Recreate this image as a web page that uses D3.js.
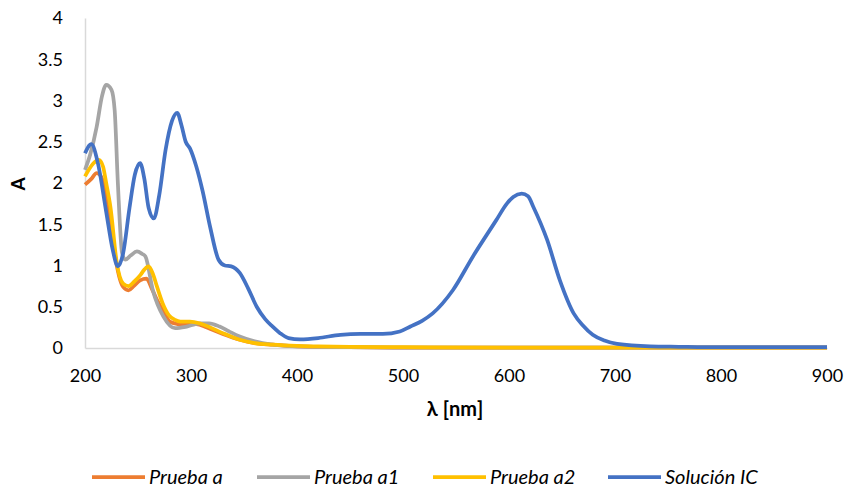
<!DOCTYPE html>
<html>
<head>
<meta charset="utf-8">
<script src="https://cdn.jsdelivr.net/npm/d3@7"></script>
<style>
  body { margin: 0; background: #fff; }
  text { font-family: Lato, "Open Sans", sans-serif; fill: #000; }
</style>
</head>
<body>
<svg id="chart" width="853" height="487"></svg>
<script>
// series data (wavelength nm, absorbance)
const wlA = [200, 206, 211, 214, 220, 224, 228, 236, 241, 246, 252, 258, 263, 268, 274, 280, 288, 296, 305, 315, 330, 346, 360, 377, 400, 450, 500, 600, 700, 800, 900];
const absA = [1.98, 2.05, 2.12, 2.1, 1.87, 1.55, 1.15, 0.74, 0.70, 0.75, 0.82, 0.84, 0.72, 0.58, 0.44, 0.32, 0.29, 0.28, 0.29, 0.25, 0.17, 0.1, 0.06, 0.04, 0.02, 0.01, 0.005, 0.005, 0.005, 0.005, 0.005];

const wlA1 = [200, 205, 211, 216, 220, 225, 228, 231, 235, 238, 243, 249, 254, 257, 264, 274, 285, 296, 308, 317, 327, 336, 346, 360, 377, 400, 450, 500, 600, 700, 800, 900];
const absA1 = [2.16, 2.35, 2.68, 3.05, 3.19, 3.13, 2.88, 2.0, 1.15, 1.07, 1.12, 1.17, 1.14, 1.11, 0.7, 0.38, 0.24, 0.26, 0.3, 0.3, 0.26, 0.2, 0.14, 0.08, 0.04, 0.02, 0.01, 0.005, 0.005, 0.005, 0.005, 0.005];

const wlA2 = [200, 204, 208, 213, 217, 220, 224, 230, 236, 241, 246, 252, 256, 260, 264, 268, 273, 279, 285, 290, 299, 308, 318, 330, 346, 360, 377, 400, 420, 450, 500, 600, 700, 800, 900];
const absA2 = [2.08, 2.17, 2.24, 2.28, 2.2, 2.0, 1.71, 1.03, 0.78, 0.75, 0.8, 0.88, 0.95, 0.99, 0.9, 0.74, 0.55, 0.40, 0.34, 0.32, 0.32, 0.3, 0.25, 0.18, 0.1, 0.06, 0.04, 0.025, 0.02, 0.015, 0.01, 0.005, 0.005, 0.005, 0.005];

const wlIC = [200, 206, 212, 220, 226, 231, 236, 242, 247, 252, 256, 260, 265, 270, 276, 282, 287, 291, 295, 299, 305, 311, 318, 326, 332, 338, 346, 354, 362, 370, 377, 384, 392, 403, 420, 441, 460, 481, 497, 507, 518, 528, 547, 566, 588, 598, 604, 612, 618, 623, 636, 648, 661, 670, 679, 690, 702, 733, 760, 800, 850, 900];
const absIC = [2.36, 2.47, 2.25, 1.65, 1.2, 0.99, 1.15, 1.7, 2.1, 2.24, 2.05, 1.7, 1.57, 1.85, 2.4, 2.75, 2.85, 2.7, 2.5, 2.42, 2.2, 1.9, 1.47, 1.07, 1.0, 0.99, 0.91, 0.72, 0.5, 0.35, 0.26, 0.18, 0.12, 0.105, 0.12, 0.16, 0.17, 0.17, 0.2, 0.26, 0.33, 0.42, 0.7, 1.11, 1.55, 1.75, 1.83, 1.87, 1.84, 1.71, 1.31, 0.82, 0.42, 0.27, 0.16, 0.09, 0.05, 0.02, 0.015, 0.01, 0.01, 0.01];

const seriesNames = ["Prueba a", "Prueba a1", "Prueba a2", "Solución IC"];
const seriesColors = ["#ED7D31", "#A5A5A5", "#FFC000", "#4472C4"];
const xTicks = [200, 300, 400, 500, 600, 700, 800, 900];
const yTicks = [0, 0.5, 1, 1.5, 2, 2.5, 3, 3.5, 4];

const series = [
  { name: seriesNames[0], color: seriesColors[0], x: wlA, y: absA },
  { name: seriesNames[1], color: seriesColors[1], x: wlA1, y: absA1 },
  { name: seriesNames[2], color: seriesColors[2], x: wlA2, y: absA2 },
  { name: seriesNames[3], color: seriesColors[3], x: wlIC, y: absIC }
];

const svg = d3.select("#chart");
const plotLeft = 85, plotRight = 827, plotTop = 18, plotBottom = 348;

const xScale = d3.scaleLinear().domain([200, 900]).range([plotLeft, plotRight]);
const yScale = d3.scaleLinear().domain([0, 4]).range([plotBottom, plotTop]);

// axis lines (no gridlines, excel style)
svg.append("g")
  .attr("transform", "translate(0," + plotBottom + ")")
  .call(d3.axisBottom(xScale).tickValues(xTicks).tickSize(0).tickPadding(21))
  .call(g => g.select(".domain").attr("stroke", "#d9d9d9").attr("stroke-width", 1.5))
  .selectAll("text").attr("font-size", "18px");

svg.append("g")
  .attr("transform", "translate(" + plotLeft + ",0)")
  .call(d3.axisLeft(yScale).tickValues(yTicks).tickSize(0).tickPadding(22).tickFormat(d3.format("")))
  .call(g => g.select(".domain").attr("stroke", "#d9d9d9").attr("stroke-width", 1.5))
  .selectAll("text").attr("font-size", "18px");

const line = d3.line()
  .x(d => xScale(d[0]))
  .y(d => yScale(d[1]))
  .curve(d3.curveMonotoneX);

series.forEach(s => {
  svg.append("path")
    .datum(d3.zip(s.x, s.y))
    .attr("fill", "none")
    .attr("stroke", s.color)
    .attr("stroke-width", 3.75)
    .attr("stroke-linejoin", "round")
    .attr("d", line);
});

// axis titles
svg.append("text")
  .attr("x", 455).attr("y", 416)
  .attr("text-anchor", "middle")
  .attr("font-size", "20px").attr("font-weight", "bold")
  .text("λ [nm]");

svg.append("text")
  .attr("transform", "translate(25,184) rotate(-90)")
  .attr("text-anchor", "middle")
  .attr("font-size", "19px").attr("font-weight", "bold")
  .text("A");

// legend
const legendX = [92, 257, 433, 608];
const legend = svg.append("g");
series.forEach((s, i) => {
  const g = legend.append("g").attr("transform", "translate(" + legendX[i] + ",477)");
  g.append("line").attr("x1", 0).attr("x2", 53).attr("y1", 0).attr("y2", 0)
    .attr("stroke", s.color).attr("stroke-width", 3.75);
  g.append("text").attr("x", 57).attr("y", 7)
    .attr("font-size", "20px").attr("font-style", "italic")
    .text(s.name);
});
</script>
</body>
</html>
